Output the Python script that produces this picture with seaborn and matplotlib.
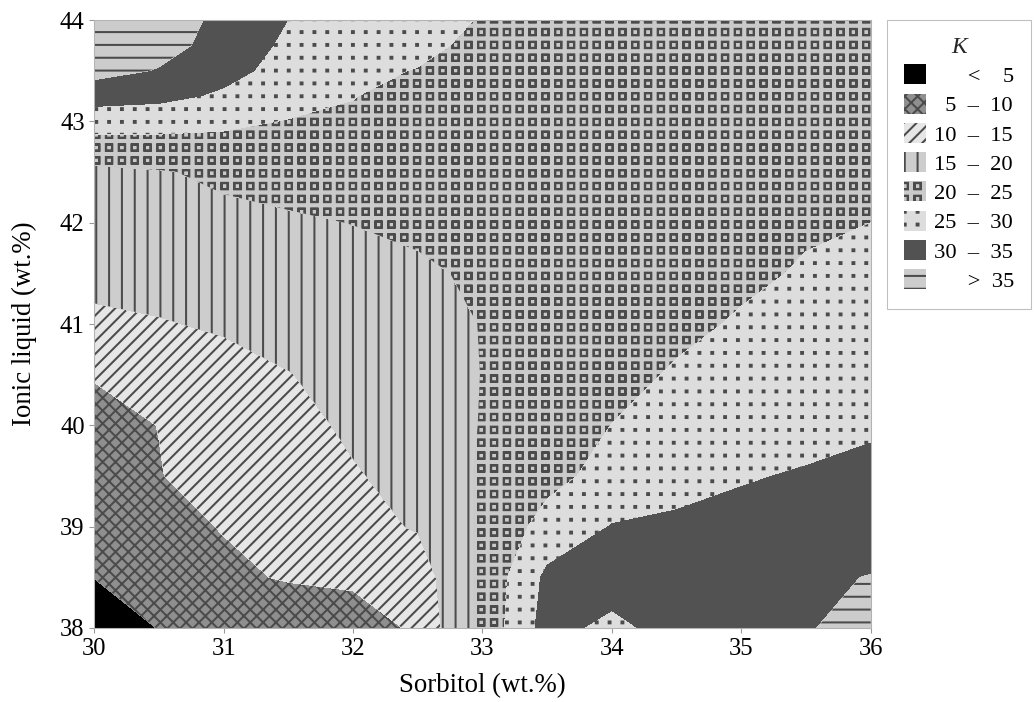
import numpy as np
import matplotlib
matplotlib.use("Agg")
import matplotlib.pyplot as plt
import matplotlib.hatch as mhatch
from matplotlib.patches import Patch
from matplotlib.path import Path
import seaborn as sns

# grid: K at each (sorbitol, ionic liquid) node
sorbitol = [30, 30.5, 31, 31.5, 32, 32.5, 33, 33.5, 34, 34.5, 35, 35.5, 36]
ionic_liquid = [38, 38.5, 39, 39.5, 40, 40.5, 41, 41.5, 42, 42.5, 43, 43.25, 43.5, 43.75, 44]
k_grid = [
    [3.0, 5.1, 5.2, 5.4, 5.6, 11.4, 21.4, 32.0, 28.4, 32.4, 34.0, 34.7, 36.5],          # 38
    [5.05, 7.0, 8.83, 10.5, 11.6, 12.59, 21.2, 31.0, 33.0, 33.5, 34.0, 34.5, 35.1],     # 38.5
    [6.3, 8.3, 10.27, 11.96, 13.65, 15.34, 20.76, 26.8, 30.2, 31.0, 31.5, 32.5, 33.5],  # 39
    [7.6, 9.87, 11.47, 13.08, 14.68, 16.28, 20.6, 23.5, 26.76, 28.0, 29.6, 30.43, 31.5],  # 39.5
    [8.9, 10.05, 11.93, 13.78, 15.63, 17.5, 20.2, 22.5, 25.05, 26.5, 27.5, 28.3, 29.2],   # 40
    [10.2, 11.8, 13.3, 14.85, 16.57, 18.3, 20.07, 21.5, 23.5, 25.47, 26.5, 27.3, 28.0],  # 40.5
    [14.1, 14.7, 15.57, 16.7, 17.83, 18.96, 20.09, 21.0, 22.5, 24.0, 25.43, 26.2, 27.0],  # 41
    [16.3, 16.8, 17.3, 17.9, 18.5, 19.2, 20.8, 21.8, 22.6, 23.4, 24.2, 25.38, 26.0],     # 41.5
    [18.0, 18.5, 19.0, 19.5, 20.08, 21.0, 22.0, 22.8, 23.4, 23.9, 24.3, 24.5, 25.0],     # 42
    [19.0, 19.7, 20.77, 21.5, 22.0, 22.3, 22.5, 22.7, 22.8, 23.0, 23.2, 23.5, 24.0],     # 42.5
    [27.0, 26.8, 26.0, 24.78, 24.0, 23.6, 23.3, 23.2, 23.1, 23.0, 23.0, 23.1, 23.3],     # 43
    [32.1, 31.3, 29.27, 27.0, 25.2, 22.7, 22.0, 21.8, 21.8, 21.8, 21.9, 22.0, 22.2],     # 43.25
    [36.6, 34.74, 31.5, 28.3, 26.0, 24.81, 22.0, 21.0, 20.8, 20.8, 21.0, 21.2, 21.5],    # 43.5
    [38.0, 36.5, 33.5, 28.9, 27.5, 26.2, 23.8, 22.0, 21.0, 20.8, 20.8, 21.0, 21.2],      # 43.75
    [39.0, 37.0, 34.06, 29.95, 28.5, 27.2, 24.64, 22.5, 21.2, 20.8, 20.8, 21.0, 21.2],   # 44
]

k_levels = [0, 5, 10, 15, 20, 25, 30, 35, 45]
k_labels = ["      <    5", "  5  –  10", "10  –  15", "15  –  20",
            "20  –  25", "25  –  30", "30  –  35", "      >  35"]
fill_colors = ["#000000", "#8f8f8f", "#e6e6e6", "#cdcdcd",
               "#cacaca", "#dddddd", "#525252", "#cccccc"]
hatch_list = [None, "xx", "//", "|", "O", ".", None, "-"]
HATCH_GRAY = "#4b4b4b"

sns.set_theme(style="white")
plt.rcParams["font.family"] = ["Liberation Serif", "DejaVu Serif"]
plt.rcParams["hatch.color"] = HATCH_GRAY
plt.rcParams["patch.edgecolor"] = HATCH_GRAY
plt.rcParams["hatch.linewidth"] = 1.9


# square-grid hollow squares / dots (matplotlib's own circles are staggered)
class GridSquares(mhatch.HatchPatternBase):
    char = "O"
    half = 0.042
    hollow = True

    def __init__(self, hatch, density):
        self.num_rows = hatch.count(self.char) * density
        per = 10 if self.hollow else 5
        self.num_vertices = self.num_rows ** 2 * per

    def set_vertices_and_codes(self, vertices, codes):
        h = self.half
        sq = np.array([[-h, -h], [h, -h], [h, h], [-h, h], [-h, -h]])
        sq_codes = [Path.MOVETO] + [Path.LINETO] * 3 + [Path.CLOSEPOLY]
        if self.hollow:
            sq = np.concatenate([sq, sq[::-1] * 0.9])
            sq_codes = sq_codes * 2
        centers = (np.arange(self.num_rows) + 0.5) / self.num_rows
        n = len(sq)
        i = 0
        for cy in centers:
            for cx in centers:
                vertices[i:i + n] = sq + [cx, cy]
                codes[i:i + n] = sq_codes
                i += n


class GridDots(GridSquares):
    char = "."
    half = 0.012
    hollow = False


types = mhatch._hatch_types
types[types.index(mhatch.LargeCircles)] = GridSquares
types[types.index(mhatch.SmallFilledCircles)] = GridDots

DPI = 77
fig = plt.figure(figsize=(1035 / DPI, 702 / DPI), dpi=DPI)
ax = fig.add_axes([94.3 / 1035, 74 / 702, 776.4 / 1035, 608 / 702])

cs = ax.contourf(sorbitol, ionic_liquid, k_grid, levels=k_levels,
                 colors=fill_colors, hatches=hatch_list)

ax.set_xlim(30, 36)
ax.set_ylim(38, 44)
ax.set_xticks(range(30, 37))
ax.set_yticks(range(38, 45))
for s in ax.spines.values():
    s.set_color("#b3b3b3")
    s.set_linewidth(1)
ax.tick_params(bottom=True, left=True, direction="out", length=5,
               width=1, color="#999999", labelsize=23,
               labelcolor="black", pad=4)
ax.set_xlabel("Sorbitol (wt.%)", fontsize=25, color="black", labelpad=13)
ax.set_ylabel("Ionic liquid (wt.%)", fontsize=25, color="black", labelpad=21)

handles = [Patch(facecolor=c, hatch=h, linewidth=0)
           for c, h in zip(fill_colors, hatch_list)]
leg = fig.legend(handles, k_labels, loc="upper left",
                 bbox_to_anchor=(887 / 1035, 1 - 20 / 702),
                 frameon=True, fancybox=False, edgecolor="#b0b0b0",
                 fontsize=21, title="K",
                 title_fontproperties={"style": "italic", "size": 22},
                 handlelength=1.0, handleheight=1.0, labelspacing=0.29,
                 handletextpad=0.35, borderpad=0.75, borderaxespad=0)
leg.get_frame().set_linewidth(1)
for t in leg.get_texts():
    t.set_color("black")

fig.savefig("out.png", dpi=DPI)
